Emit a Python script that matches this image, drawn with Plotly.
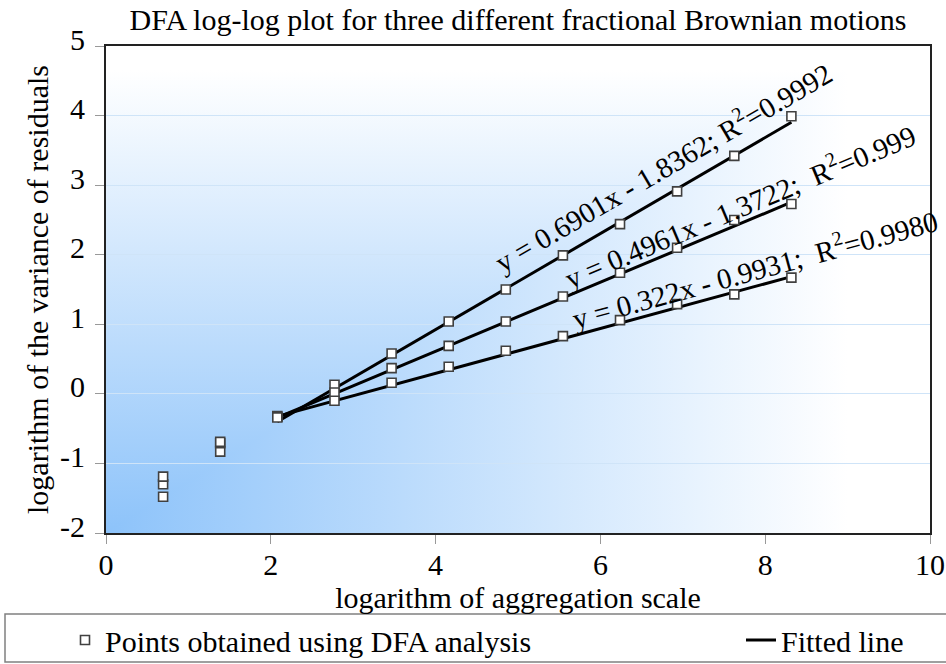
import base64
import math
import plotly.graph_objects as go

# ---------------- data ----------------
log_scale = [0.693, 1.386, 2.079, 2.773, 3.466, 4.159, 4.852, 5.545, 6.238, 6.931, 7.625, 8.318]
series_high = [-1.48, -0.83, -0.32, 0.13, 0.58, 1.04, 1.50, 1.99, 2.44, 2.91, 3.42, 3.99]
series_mid = [-1.30, -0.71, -0.33, 0.02, 0.37, 0.69, 1.04, 1.40, 1.74, 2.10, 2.50, 2.73]
series_low = [-1.19, -0.69, -0.34, -0.10, 0.16, 0.39, 0.62, 0.83, 1.06, 1.29, 1.43, 1.67]

fit_slopes = [0.6901, 0.4961, 0.322]
fit_intercepts = [-1.8362, -1.3722, -0.9931]
fit_range = [2.079, 8.318]
fit_labels = [
    "y = 0.6901x - 1.8362; R<sup>2</sup>=0.9992",
    "y = 0.4961x - 1.3722;  R<sup>2</sup>=0.999",
    "y = 0.322x - 0.9931;  R<sup>2</sup>=0.9980",
]
label_centers = [(6.75, 3.28), (7.69, 2.71), (7.87, 1.81)]

x_tick_vals = [0, 2, 4, 6, 8, 10]
x_tick_labels = ["0", "2", "4", "6", "8", "10"]
y_tick_vals = [-2, -1, 0, 1, 2, 3, 4, 5]
y_tick_labels = ["-2", "-1", "0", "1", "2", "3", "4", "5"]

title = "DFA log-log plot for three different fractional Brownian motions"
x_title = "logarithm of aggregation scale"
y_title = "logarithm of the variance of residuals"

FONT = "Liberation Serif, Times New Roman, serif"

W, H = 946, 664
ML, MR, MT, MB = 106, 16, 46, 131
PW, PH = W - ML - MR, H - MT - MB
X_RANGE, Y_RANGE = [0, 10], [-2, 5]

fig = go.Figure()

# ---------------- background gradient ----------------
svg = f'''<svg xmlns="http://www.w3.org/2000/svg" width="{PW}" height="{PH}" viewBox="0 0 {PW} {PH}" preserveAspectRatio="none">
<defs>
<linearGradient id="h" x1="0" y1="0" x2="1" y2="0"><stop offset="0" stop-color="#8DC3FA"/><stop offset="0.9" stop-color="#FFFFFF"/></linearGradient>
<linearGradient id="v" x1="0" y1="1" x2="0" y2="0"><stop offset="0" stop-color="#8DC3FA"/><stop offset="0.95" stop-color="#FFFFFF"/></linearGradient>
</defs>
<rect width="{PW}" height="{PH}" fill="url(#h)"/>
<rect width="{PW}" height="{PH}" fill="url(#v)" style="mix-blend-mode:lighten"/>
</svg>'''
src = "data:image/svg+xml;base64," + base64.b64encode(svg.encode()).decode()
fig.add_layout_image(dict(source=src, xref="paper", yref="paper", x=0, y=1,
                          sizex=1, sizey=1, sizing="stretch", layer="below"))

# ---------------- fitted lines ----------------
for i, (m, b) in enumerate(zip(fit_slopes, fit_intercepts)):
    fig.add_trace(go.Scatter(
        x=fit_range, y=[m * fit_range[0] + b, m * fit_range[1] + b],
        mode="lines", line=dict(color="black", width=3),
        name="Fitted line", legend="legend2", showlegend=(i == 0),
    ))

# ---------------- points ----------------
for i, ys in enumerate([series_high, series_mid, series_low]):
    fig.add_trace(go.Scatter(
        x=log_scale, y=ys, mode="markers",
        marker=dict(symbol="square", size=9, color="white",
                    line=dict(color="#404040", width=1.6)),
        name="Points obtained using DFA analysis", legend="legend",
        showlegend=(i == 0),
    ))

# ---------------- equation labels (parallel to their lines) ----------------
px_per_x = PW / (X_RANGE[1] - X_RANGE[0])
px_per_y = PH / (Y_RANGE[1] - Y_RANGE[0])
for (cx, cy), m, txt in zip(label_centers, fit_slopes, fit_labels):
    ang = -math.degrees(math.atan(m * px_per_y / px_per_x))
    fig.add_annotation(x=cx, y=cy, text=txt, textangle=ang, showarrow=False,
                       font=dict(family=FONT, size=29, color="black"),
                       xanchor="center", yanchor="middle")

# legend frame
fig.add_shape(type="rect", xref="paper", yref="paper",
              x0=(5 - ML) / PW, x1=(W + 10 - ML) / PW,
              y0=-(662 - (MT + PH)) / PH, y1=-(614 - (MT + PH)) / PH,
              line=dict(color="#808080", width=1.5), fillcolor="white", layer="below")

legend_font = dict(family=FONT, size=30, color="black")
fig.update_layout(
    width=W, height=H,
    margin=dict(l=ML, r=MR, t=MT, b=MB, autoexpand=False),
    paper_bgcolor="white", plot_bgcolor="rgba(0,0,0,0)",
    title=dict(text=title, x=0.5, xanchor="center", xref="paper",
               y=1 - 19 / H, yanchor="middle", yref="container",
               font=dict(family=FONT, size=30, color="black")),
    font=dict(family=FONT, color="black"),
    showlegend=True,
    legend=dict(orientation="h", x=(65 - ML) / PW, xanchor="left",
                y=-(640 - (MT + PH)) / PH, yanchor="middle",
                bgcolor="rgba(0,0,0,0)", borderwidth=0, font=legend_font),
    legend2=dict(orientation="h", x=(741 - ML) / PW, xanchor="left",
                 y=-(640 - (MT + PH)) / PH, yanchor="middle",
                 bgcolor="rgba(0,0,0,0)", borderwidth=0, font=legend_font),
    xaxis=dict(range=X_RANGE, tickvals=x_tick_vals, ticktext=x_tick_labels,
               showgrid=False, zeroline=False,
               showline=True, linecolor="#222222", linewidth=2, mirror=True,
               ticks="outside", ticklen=9, tickcolor="#999999", tickwidth=1,
               ticklabelstandoff=-5,
               tickfont=dict(family=FONT, size=30, color="black"),
               title=dict(text=x_title, standoff=0,
                          font=dict(family=FONT, size=30, color="black"))),
    yaxis=dict(range=Y_RANGE, tickvals=y_tick_vals, ticktext=y_tick_labels,
               showgrid=True, gridcolor="#CFE4F8", gridwidth=1, zeroline=False,
               showline=True, linecolor="#222222", linewidth=2, mirror=True,
               ticks="outside", ticklen=9, tickcolor="#999999", tickwidth=1,
               ticklabelstandoff=4, ticklabelshift=-7,
               tickfont=dict(family=FONT, size=30, color="black"),
               title=dict(text=y_title, standoff=3,
                          font=dict(family=FONT, size=30, color="black"))),
)

fig.write_html("out.html")
